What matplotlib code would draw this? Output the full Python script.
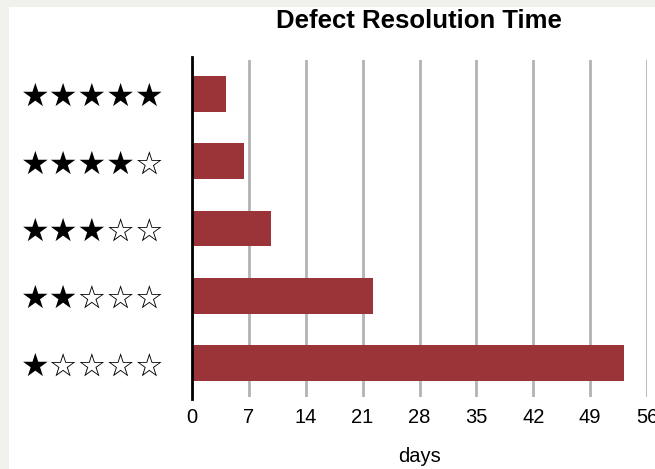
import matplotlib.pyplot as plt
from matplotlib.patches import Rectangle

# ========== Data ==========
ratings = ['★☆☆☆☆', '★★☆☆☆', '★★★☆☆', '★★★★☆', '★★★★★']
days = [53.2, 22.3, 9.7, 6.4, 4.2]
xticks = [0, 7, 14, 21, 28, 35, 42, 49, 56]

W, H = 655, 469
fig = plt.figure(figsize=(W / 100, H / 100), dpi=100, facecolor='#f0f0ec')
# white panel inside the grey frame
fig.patches.append(Rectangle((9 / W, 0), 1 - 9 / W, 1 - 7 / H, transform=fig.transFigure,
                             facecolor='white', edgecolor='none', zorder=-1))

ax = fig.add_axes([192 / W, 1 - 397 / H, 455 / W, 337 / H])
ax.set_zorder(2)
ax.set_facecolor('none')

ypos = list(range(len(ratings)))
ax.barh(ypos, days, height=0.53, color='#9b3439', zorder=3)

ax.set_xlim(0, 56)
ax.set_ylim(-0.5, 4.5)
ax.set_xticks(xticks)
ax.set_xticklabels([str(t) for t in xticks], fontsize=14.5, family='Liberation Sans')
ax.set_yticks(ypos)
ax.set_yticklabels(ratings, fontsize=23, family='DejaVu Sans')
ax.tick_params(axis='both', length=0)
ax.tick_params(axis='x', pad=8)
ax.tick_params(axis='y', pad=19.5)

ax.xaxis.grid(True, color='#b3b3b3', linewidth=2, zorder=1)
ax.set_axisbelow(True)

for s in ['top', 'right', 'bottom']:
    ax.spines[s].set_visible(False)
ax.spines['left'].set_linewidth(2)
ax.spines['left'].set_color('black')
ax.spines['left'].set_bounds(-0.53, 4.55)
ax.spines['left'].set_zorder(4)

ax.set_xlabel('days', fontsize=14.5, family='Liberation Sans', labelpad=14)
fig.text(419 / W, 1 - 21 / H, 'Defect Resolution Time', ha='center', va='center',
         fontsize=18.5, fontweight='bold', family='Liberation Sans', zorder=3)

fig.savefig('out.png', dpi=100, facecolor=fig.get_facecolor())
